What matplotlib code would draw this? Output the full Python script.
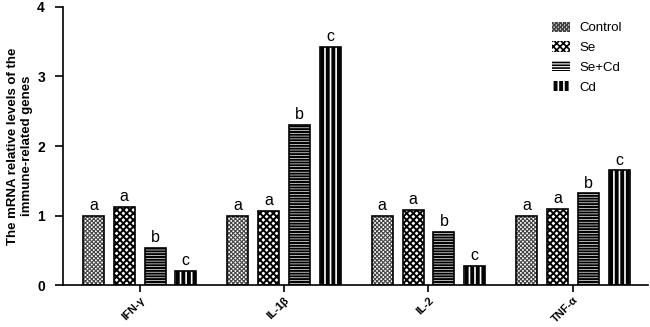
import matplotlib
matplotlib.use("Agg")
import matplotlib.pyplot as plt
import numpy as np

plt.rcParams['font.family'] = ['Liberation Sans', 'DejaVu Sans']

genes = ['IFN-γ', 'IL-1β', 'IL-2', 'TNF-α']
groups = ['Control', 'Se', 'Se+Cd', 'Cd']
values = {
    'Control': [1.00, 1.00, 1.00, 1.00],
    'Se': [1.13, 1.07, 1.08, 1.10],
    'Se+Cd': [0.54, 2.30, 0.76, 1.32],
    'Cd': [0.20, 3.43, 0.28, 1.65],
}
letters = {
    'Control': ['a', 'a', 'a', 'a'],
    'Se': ['a', 'a', 'a', 'a'],
    'Se+Cd': ['b', 'b', 'b', 'b'],
    'Cd': ['c', 'c', 'c', 'c'],
}

# fill style per group: (face, hatch colour, hatch, hatch width)
styles = {
    'Control': ('white', '#444444', 'xxxxxxxx', 0.8),
    'Se': ('white', 'black', 'xxxxx', 1.4),
    'Se+Cd': ('white', 'black', '------', 1.5),
    'Cd': ('black', 'white', '|||', 1.2),
}

fig = plt.figure(figsize=(6.5, 3.27), dpi=100)
ax = fig.add_axes([0.097, 0.128, 0.9, 0.851])

x = np.arange(len(genes))
width = 0.145
offsets = [-0.32, -0.107, 0.107, 0.32]

handles = []
for g, off in zip(groups, offsets):
    face, hcol, hatch, hlw = styles[g]
    plt.rcParams['hatch.linewidth'] = hlw
    ax.bar(x + off, values[g], width, color=face, edgecolor=hcol, hatch=hatch, linewidth=0)
    ax.bar(x + off, values[g], width, fill=False, edgecolor='black', linewidth=1.2)
    for xi, v, lt in zip(x + off, values[g], letters[g]):
        ax.annotate(lt, (xi, v), xytext=(0, 2), textcoords='offset points',
                    ha='center', va='bottom', fontsize=11.5)
    h = plt.Rectangle((0, 0), 1, 1, facecolor=face, edgecolor=hcol, hatch=hatch, linewidth=0)
    handles.append(h)

ax.set_xlim(-0.53, 3.52)
ax.set_ylim(0, 4)
ax.set_yticks([0, 1, 2, 3, 4])
ax.set_xticks(x)
ax.set_xticklabels(genes, rotation=45, ha='right', rotation_mode='anchor', fontsize=8, fontweight='bold')
ax.set_yticklabels(['0', '1', '2', '3', '4'], fontsize=10, fontweight='bold')
ax.set_ylabel('The mRNA relative levels of the\nimmune-related genes', fontsize=9.5, fontweight='bold', labelpad=3)

for side in ('top', 'right'):
    ax.spines[side].set_visible(False)
for side in ('left', 'bottom'):
    ax.spines[side].set_linewidth(1.2)
ax.tick_params(axis='y', direction='out', length=6, width=1.2, pad=7)
ax.tick_params(axis='x', direction='out', length=5, width=1.2, pad=2)

leg = ax.legend(handles, groups, loc='upper left', bbox_to_anchor=(0.815, 0.99), frameon=False,
                fontsize=9.5, handlelength=1.4, handleheight=0.8, labelspacing=0.55, handletextpad=0.7)

fig.savefig('out.png', dpi=100)
